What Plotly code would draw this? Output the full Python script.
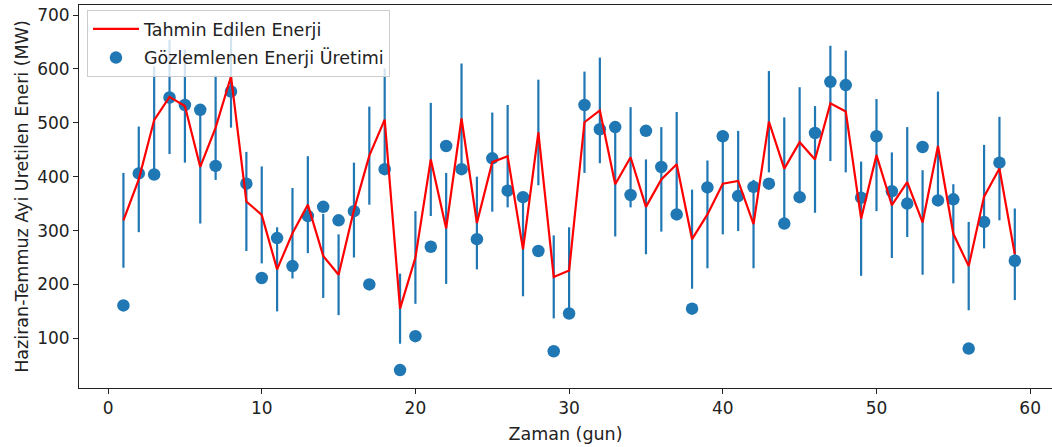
import plotly.graph_objects as go

days = list(range(1, 60))
predicted = [319, 395, 505, 548, 531, 418, 491, 586, 354, 329,
             228, 295, 348, 253, 218, 338, 439, 506, 155, 250,
             432, 304, 508, 314, 427, 438, 265, 482, 214, 226,
             501, 523, 386, 436, 344, 395, 423, 284, 330, 387,
             392, 312, 502, 415, 464, 432, 536, 521, 322, 440,
             347, 390, 315, 457, 294, 234, 363, 415, 256]
observed = [161, 406, 404, 547, 533, 524, 420, 558, 387, 212,
            286, 234, 327, 344, 319, 336, 200, 414, 41, 104,
            270, 457, 414, 284, 434, 374, 362, 262, 76, 146,
            533, 488, 492, 366, 485, 418, 330, 155, 380, 475,
            364, 381, 387, 313, 362, 481, 576, 570, 361, 475,
            373, 350, 455, 356, 358, 81, 316, 426, 244]
errors = [88, 98, 100, 106, 105, 105, 97, 95, 92, 90,
          78, 84, 90, 78, 75, 88, 91, 95, 65, 86,
          105, 103, 102, 86, 92, 95, 87, 98, 77, 80,
          94, 98, 97, 93, 88, 97, 97, 92, 100, 94,
          93, 82, 94, 95, 102, 99, 107, 113, 106, 104,
          98, 102, 97, 101, 92, 82, 96, 96, 85]

x_ticks = [0, 10, 20, 30, 40, 50, 60]
y_ticks = [100, 200, 300, 400, 500, 600, 700]

BLUE = "#1f77b4"
FONT = "DejaVu Sans"
TXT = "#222"

fig = go.Figure()
fig.add_trace(go.Scatter(
    x=days, y=predicted, mode="markers",
    marker=dict(size=1, color="rgba(0,0,0,0)"),
    error_y=dict(type="data", array=errors, visible=True, color=BLUE,
                 thickness=2.2, width=0),
    showlegend=False, hoverinfo="skip"))
fig.add_trace(go.Scatter(
    x=days, y=observed, mode="markers", name="Gözlemlenen Enerji Üretimi",
    marker=dict(size=12.5, color=BLUE, line=dict(width=0)),
    legendrank=2, legendgroup="obs"))
fig.add_trace(go.Scatter(
    x=days, y=predicted, mode="lines", name="Tahmin Edilen Enerji",
    line=dict(color="#ff0000", width=2.2),
    legendrank=1, legendgroup="pred"))

axis_common = dict(showgrid=False, zeroline=False, showline=True,
                   linecolor=TXT, linewidth=1, ticks="outside",
                   ticklen=5, tickcolor=TXT, tickwidth=1, automargin=False,
                   tickfont=dict(family=FONT, size=17, color=TXT))

fig.update_layout(
    width=1052, height=447,
    margin=dict(l=79, r=0, t=5, b=59, autoexpand=False),
    paper_bgcolor="white", plot_bgcolor="white",
    font=dict(family=FONT, size=17, color=TXT),
    xaxis=dict(range=[-1.89, 61.42], tickvals=x_ticks, mirror=True,
               title=dict(text="Zaman (gun)", standoff=10,
                          font=dict(family=FONT, size=17.5, color=TXT)),
               **axis_common),
    yaxis=dict(range=[7.8, 718.6], tickvals=y_ticks,
               title=dict(text="Haziran-Temmuz Ayi Uretilen Eneri (MW)", standoff=4,
                          font=dict(family=FONT, size=17.5, color=TXT)),
               **axis_common),
    legend=dict(x=0.0082, y=0.987, xanchor="left", yanchor="top",
                bgcolor="rgba(255,255,255,0.8)", bordercolor="#ccc", borderwidth=1,
                font=dict(family=FONT, size=17.5, color=TXT),
                itemwidth=46, tracegroupgap=3),
    showlegend=True,
)

fig.write_html("out.html",
               config={"displayModeBar": False},
               post_script="document.body.style.margin='0';document.body.style.overflow='hidden';")
